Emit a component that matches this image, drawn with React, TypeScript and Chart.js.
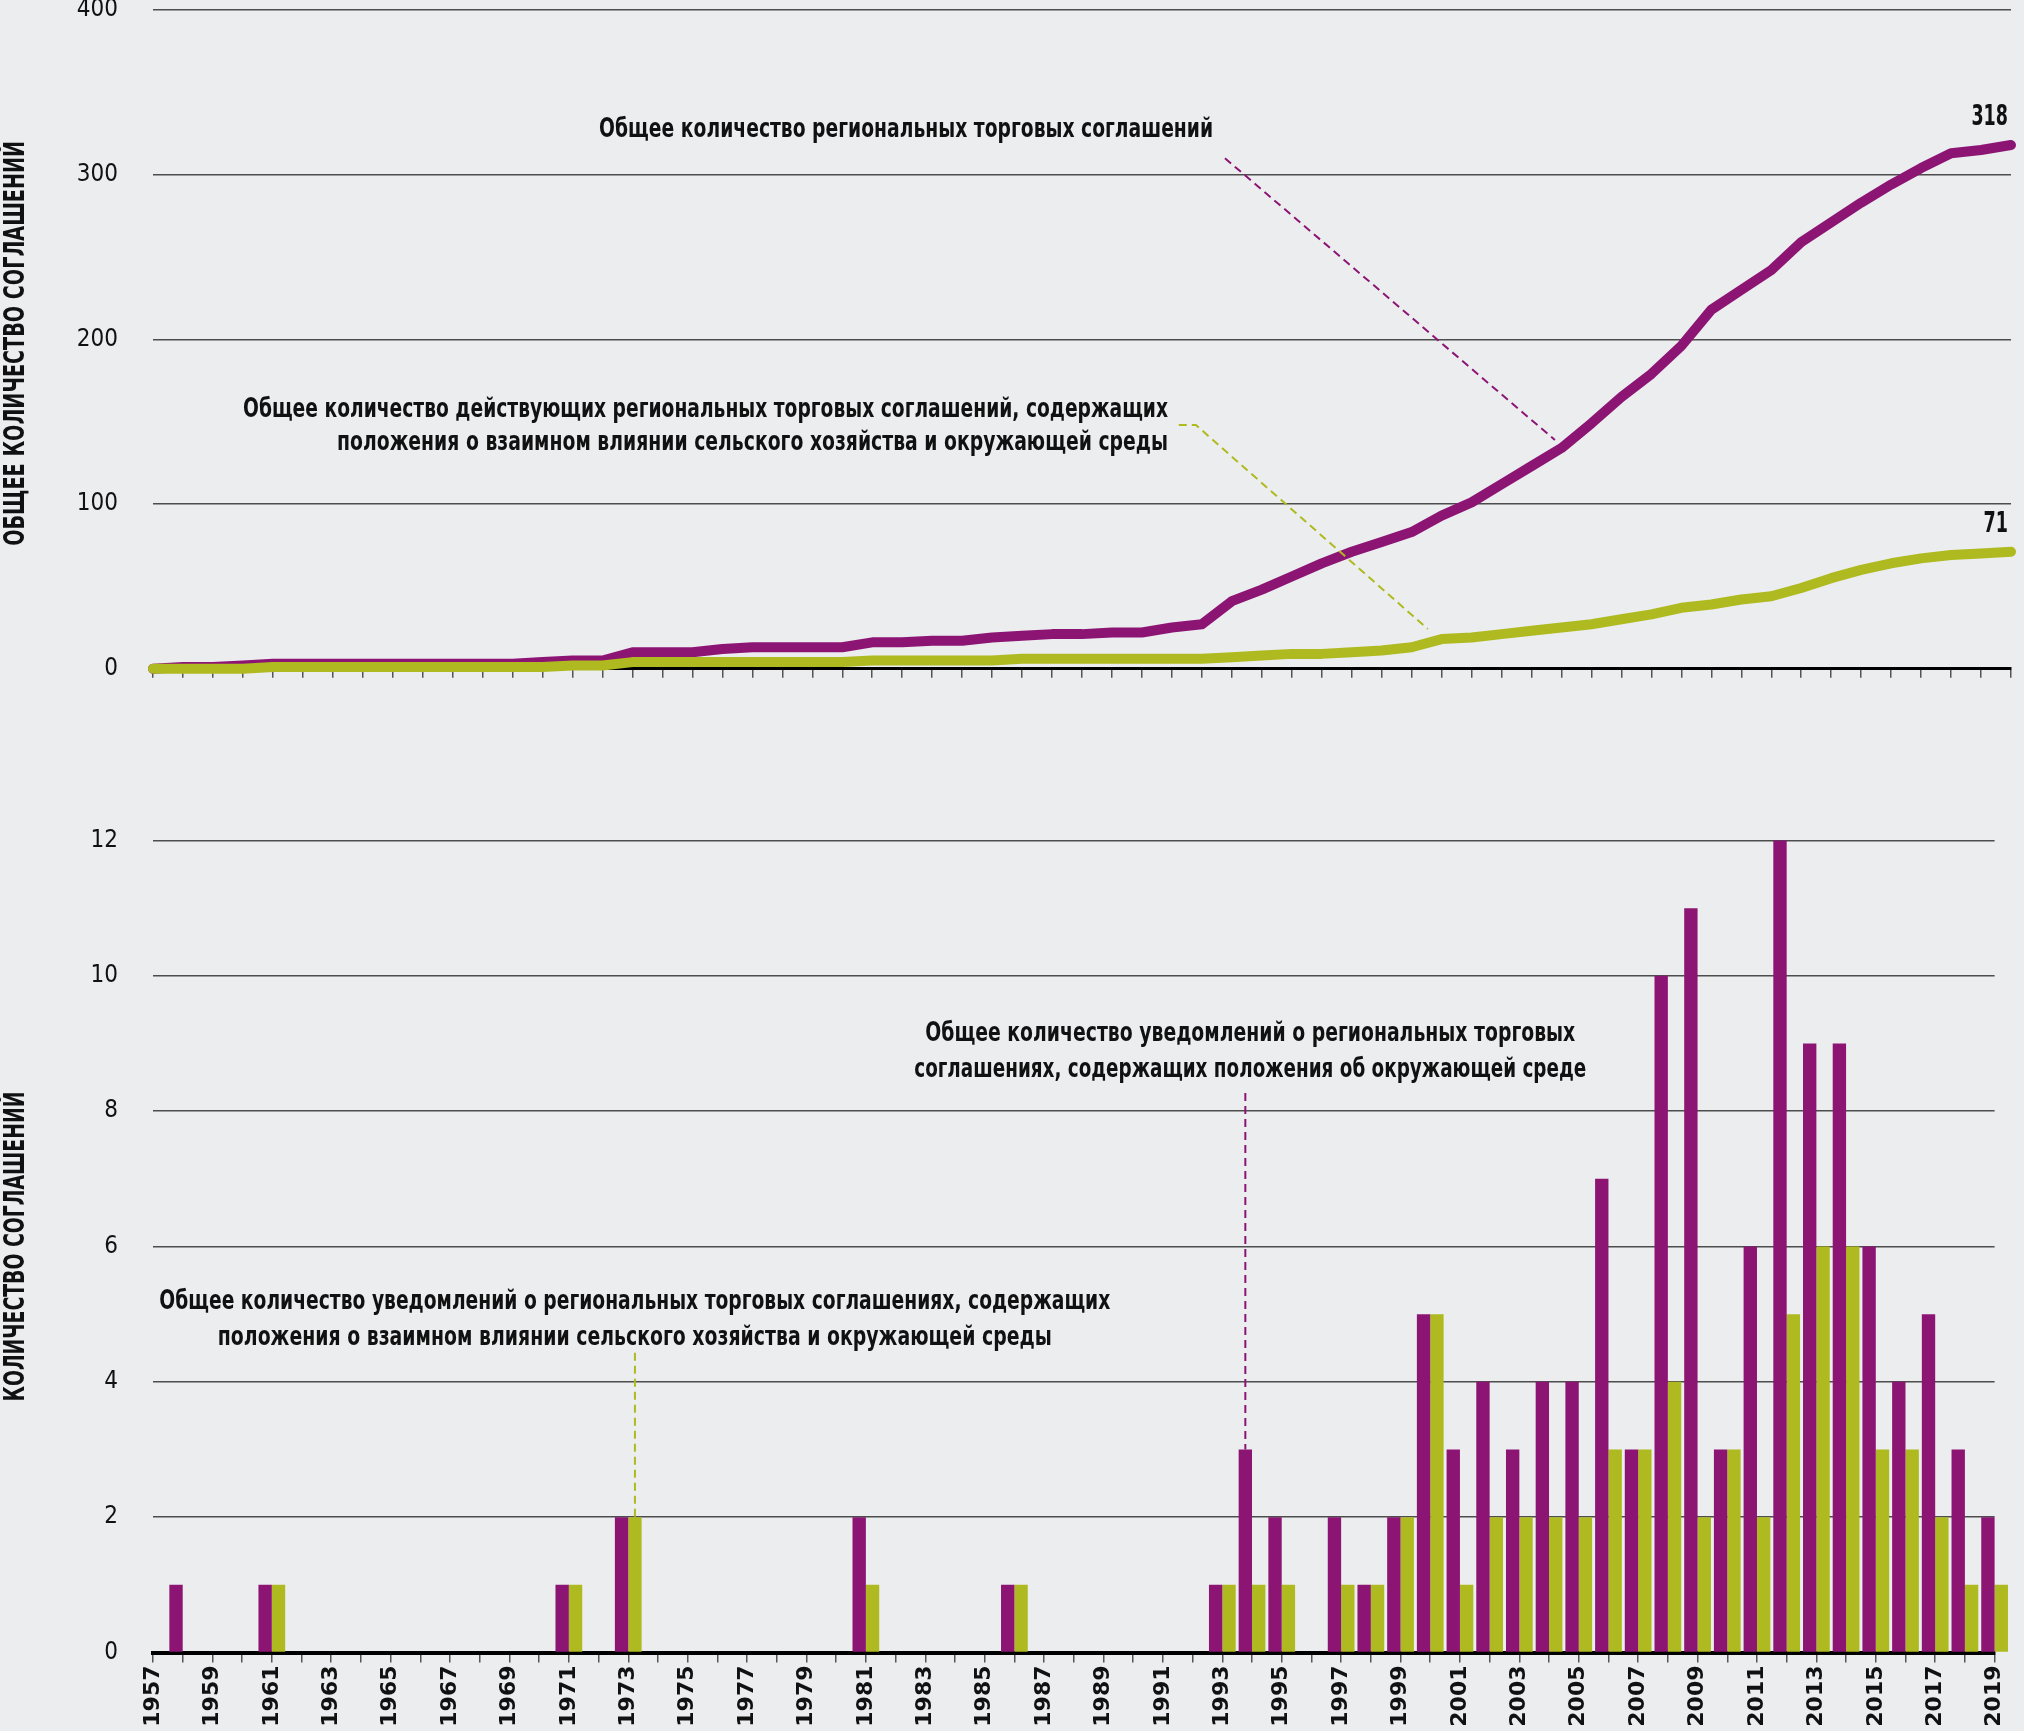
import React, { useEffect, useRef } from 'react';
import { Chart, registerables } from 'chart.js';

Chart.register(...registerables);

// ---------- data ----------
const years = [
  '1957', '1958', '1959', '1960', '1961', '1962', '1963', '1964', '1965', '1966',
  '1967', '1968', '1969', '1970', '1971', '1972', '1973', '1974', '1975', '1976',
  '1977', '1978', '1979', '1980', '1981', '1982', '1983', '1984', '1985', '1986',
  '1987', '1988', '1989', '1990', '1991', '1992', '1993', '1994', '1995', '1996',
  '1997', '1998', '1999', '2000', '2001', '2002', '2003', '2004', '2005', '2006',
  '2007', '2008', '2009', '2010', '2011', '2012', '2013', '2014', '2015', '2016',
  '2017', '2018', '2019',
];

// cumulative number of RTAs in force (purple line)
const totalRTAs = [
  0, 1, 1, 2, 3, 3, 3, 3, 3, 3,
  3, 3, 3, 4, 5, 5, 10, 10, 10, 12,
  13, 13, 13, 13, 16, 16, 17, 17, 19, 20,
  21, 21, 22, 22, 25, 27, 41, 48, 56, 64,
  71, 77, 83, 93, 101, 112, 123, 134, 149, 165,
  179, 196, 218, 230, 242, 259, 271, 283, 294, 304,
  313, 315, 318,
];

// cumulative number of RTAs in force with agriculture-environment provisions (green line)
const agriEnvRTAs = [
  0, 0, 0, 0, 1, 1, 1, 1, 1, 1,
  1, 1, 1, 1, 2, 2, 4, 4, 4, 4,
  4, 4, 4, 4, 5, 5, 5, 5, 5, 6,
  6, 6, 6, 6, 6, 6, 7, 8, 9, 9,
  10, 11, 13, 18, 19, 21, 23, 25, 27, 30,
  33, 37, 39, 42, 44, 49, 55, 60, 64, 67,
  69, 70, 71,
];

// yearly notifications of RTAs with environmental provisions (purple bars)
const envNotifications = [
  0, 1, 0, 0, 1, 0, 0, 0, 0, 0,
  0, 0, 0, 0, 1, 0, 2, 0, 0, 0,
  0, 0, 0, 0, 2, 0, 0, 0, 0, 1,
  0, 0, 0, 0, 0, 0, 1, 3, 2, 0,
  2, 1, 2, 5, 3, 4, 3, 4, 4, 7,
  3, 10, 11, 3, 6, 12, 9, 9, 6, 4,
  5, 3, 2,
];

// yearly notifications of RTAs with agriculture-environment provisions (green bars)
const agriEnvNotifications = [
  0, 0, 0, 0, 1, 0, 0, 0, 0, 0,
  0, 0, 0, 0, 1, 0, 2, 0, 0, 0,
  0, 0, 0, 0, 1, 0, 0, 0, 0, 1,
  0, 0, 0, 0, 0, 0, 1, 1, 1, 0,
  1, 1, 2, 5, 1, 2, 2, 2, 2, 3,
  3, 4, 2, 3, 2, 5, 6, 6, 3, 3,
  2, 1, 1,
];

const topAxisTitle = 'ОБЩЕЕ КОЛИЧЕСТВО СОГЛАШЕНИЙ';
const bottomAxisTitle = 'КОЛИЧЕСТВО СОГЛАШЕНИЙ';
const labelTotalRTAs = ['Общее количество региональных торговых соглашений'];
const labelAgriEnvRTAs = [
  'Общее количество действующих региональных торговых соглашений, содержащих',
  'положения о взаимном влиянии сельского хозяйства и окружающей среды',
];
const labelEnvNotifications = [
  'Общее количество уведомлений о региональных торговых',
  'соглашениях, содержащих положения об окружающей среде',
];
const labelAgriEnvNotifications = [
  'Общее количество уведомлений о региональных торговых соглашениях, содержащих',
  'положения о взаимном влиянии сельского хозяйства и окружающей среды',
];

// ---------- styles ----------
const PURPLE = '#8C1574';
const GREEN = '#AEBA1F';
const BG = '#ECEDEF';
const TEXT = '#111111';
const GRID = '#4d4d4d';

function fontAvailable(name: string): boolean {
  const c = document.createElement('canvas').getContext('2d');
  if (!c) return false;
  const test = 'Общее количество 0123456789 abcdefghij WWW';
  return ['monospace', 'serif'].some((b) => {
    c.font = `40px ${b}`;
    const w0 = c.measureText(test).width;
    c.font = `40px "${name}", ${b}`;
    const w1 = c.measureText(test).width;
    return Math.abs(w0 - w1) > 0.5;
  });
}

function pickNarrow(): string {
  const cands = ['Liberation Sans Narrow', 'Noto Sans Condensed', 'Noto Sans SemiCondensed', 'DejaVu Sans Condensed', 'Liberation Sans'];
  for (const c of cands) if (fontAvailable(c)) return `"${c}", sans-serif`;
  return 'sans-serif';
}

let NARROW = 'sans-serif';

function fitText(ctx: CanvasRenderingContext2D, text: string, x: number, y: number, width: number, align: CanvasTextAlign, font?: string) {
  ctx.save();
  ctx.font = font || `bold 27px ${NARROW}`;
  const w = ctx.measureText(text).width;
  const s = w > 0 ? width / w : 1;
  ctx.translate(x, y);
  ctx.scale(s, 1);
  ctx.textAlign = align;
  ctx.textBaseline = 'middle';
  ctx.fillStyle = TEXT;
  ctx.fillText(text, 0, 0);
  ctx.restore();
}

function dashed(ctx: CanvasRenderingContext2D, color: string, pts: number[][]) {
  ctx.save();
  ctx.strokeStyle = color;
  ctx.lineWidth = 2;
  ctx.setLineDash([8, 5]);
  ctx.beginPath();
  pts.forEach((p, i) => (i === 0 ? ctx.moveTo(p[0], p[1]) : ctx.lineTo(p[0], p[1])));
  ctx.stroke();
  ctx.restore();
}

function axisTitle(text: string, width: number, dy: number) {
  return {
    id: 'axisTitle',
    afterDraw(chart: any) {
      const ctx: CanvasRenderingContext2D = chart.ctx;
      const ca = chart.chartArea;
      ctx.save();
      ctx.translate(17, (ca.top + ca.bottom) / 2 + dy);
      ctx.rotate(-Math.PI / 2);
      fitText(ctx, text, 0, 0, width, 'center', `bold 28px ${NARROW}`);
      ctx.restore();
    },
  };
}

const topAnnotations = {
  id: 'topAnnotations',
  afterDatasetsDraw(chart: any) {
    const ctx: CanvasRenderingContext2D = chart.ctx;
    const xs = chart.scales.x;
    const ys = chart.scales.y;
    const X = (i: number) => xs.getPixelForValue(i);
    const Y = (v: number) => ys.getPixelForValue(v);
    const last = years.length - 1;

    [totalRTAs, agriEnvRTAs].forEach((arr) => {
      const v = arr[last];
      const t = String(v);
      fitText(ctx, t, X(last) - 3, Y(v) - 27, t.length * 12.2, 'right', `bold 28px ${NARROW}`);
    });

    fitText(ctx, labelTotalRTAs[0], X(25.13), Y(327.1), 614, 'center');
    fitText(ctx, labelAgriEnvRTAs[0], X(33.87), Y(157.1), 925, 'right');
    fitText(ctx, labelAgriEnvRTAs[1], X(33.87), Y(137.0), 831, 'right');

    dashed(ctx, PURPLE, [[X(35.77), Y(310)], [X(46.78), Y(138.9)]]);
    dashed(ctx, GREEN, [[X(34.23), Y(148)], [X(34.8), Y(148)], [X(42.54), Y(24.1)]]);
  },
};

const bottomAnnotations = {
  id: 'bottomAnnotations',
  afterDatasetsDraw(chart: any) {
    const ctx: CanvasRenderingContext2D = chart.ctx;
    const xs = chart.scales.x;
    const ys = chart.scales.y;
    const X = (i: number) => xs.getPixelForValue(i);
    const Y = (v: number) => ys.getPixelForValue(v);

    fitText(ctx, labelEnvNotifications[0], X(36.94), Y(9.14), 650, 'center');
    fitText(ctx, labelEnvNotifications[1], X(36.94), Y(8.61), 672, 'center');
    fitText(ctx, labelAgriEnvNotifications[0], X(16.22), Y(5.18), 951, 'center');
    fitText(ctx, labelAgriEnvNotifications[1], X(16.22), Y(4.65), 834, 'center');

    const pBar = chart.getDatasetMeta(0).data[years.indexOf('1994')];
    if (pBar) dashed(ctx, PURPLE, [[pBar.x, Y(8.27)], [pBar.x, pBar.y]]);
    const gBar = chart.getDatasetMeta(1).data[years.indexOf('1973')];
    if (gBar) dashed(ctx, GREEN, [[gBar.x, Y(4.43)], [gBar.x, gBar.y]]);
  },
};

function yTickSize(): number {
  const c = document.createElement('canvas').getContext('2d');
  if (!c) return 24;
  c.font = `26px ${NARROW}`;
  const w = c.measureText('400').width;
  const s = w > 0 ? (26 * 35) / w : 24;
  return Math.max(24, Math.min(27, s));
}

function yAxis(max: number, step: number, tickSize: number) {
  return {
    min: 0,
    max,
    ticks: {
      stepSize: step,
      padding: 2,
      color: TEXT,
      font: { family: NARROW, size: tickSize, lineHeight: 0.6 },
    },
    grid: {
      color: (c: any) => (c.tick && c.tick.value === 0 ? 'rgba(0,0,0,0)' : GRID),
      lineWidth: 1.5,
      drawTicks: true,
      tickLength: 33,
      tickColor: 'rgba(0,0,0,0)',
    },
    border: { display: false },
    title: { display: false },
    afterFit: (s: any) => { s.width = 153; },
  };
}

export default function App() {
  const topRef = useRef<HTMLCanvasElement>(null);
  const botRef = useRef<HTMLCanvasElement>(null);

  useEffect(() => {
    NARROW = pickNarrow();
    const tickSize = yTickSize();

    const top = new Chart(topRef.current as HTMLCanvasElement, {
      type: 'line',
      data: {
        labels: years,
        datasets: [
          {
            label: labelAgriEnvRTAs.join(' '),
            data: agriEnvRTAs,
            borderColor: GREEN,
            backgroundColor: GREEN,
            borderWidth: 10,
            pointRadius: 0,
            borderCapStyle: 'round',
            borderJoinStyle: 'round',
            tension: 0,
            fill: false,
            clip: false,
            order: 0,
          },
          {
            label: labelTotalRTAs[0],
            data: totalRTAs,
            borderColor: PURPLE,
            backgroundColor: PURPLE,
            borderWidth: 10,
            pointRadius: 0,
            borderCapStyle: 'round',
            borderJoinStyle: 'round',
            tension: 0,
            fill: false,
            clip: false,
            order: 1,
          },
        ],
      },
      options: {
        responsive: false,
        animation: false,
        devicePixelRatio: 1,
        layout: { padding: { top: 10, right: 13, left: 0, bottom: 0 } },
        plugins: { legend: { display: false }, tooltip: { enabled: false } },
        scales: {
          x: {
            type: 'category',
            offset: false,
            grid: { display: true, drawOnChartArea: false, drawTicks: true, tickLength: 9, color: '#555', lineWidth: 1.5 },
            border: { display: true, color: '#000', width: 3 },
            ticks: { display: false },
            afterFit: (s: any) => { s.height = 31.3; },
          },
          y: yAxis(400, 100, tickSize),
        },
      },
      plugins: [topAnnotations, axisTitle(topAxisTitle, 405, 4)],
    } as any);

    const bot = new Chart(botRef.current as HTMLCanvasElement, {
      type: 'bar',
      data: {
        labels: years,
        datasets: [
          {
            label: labelEnvNotifications.join(' '),
            data: envNotifications,
            backgroundColor: PURPLE,
            borderWidth: 0,
            categoryPercentage: 0.9,
            barPercentage: 1,
            clip: false,
          },
          {
            label: labelAgriEnvNotifications.join(' '),
            data: agriEnvNotifications,
            backgroundColor: GREEN,
            borderWidth: 0,
            categoryPercentage: 0.9,
            barPercentage: 1,
            clip: false,
          },
        ],
      },
      options: {
        responsive: false,
        animation: false,
        devicePixelRatio: 1,
        layout: { padding: { top: 140.5, right: 13, left: 0, bottom: 0 } },
        plugins: { legend: { display: false }, tooltip: { enabled: false } },
        scales: {
          x: {
            type: 'category',
            offset: false,
            grid: { display: true, offset: false, drawOnChartArea: false, drawTicks: true, tickLength: 10, color: '#555', lineWidth: 1.5 },
            border: { display: true, color: '#000', width: 4 },
            ticks: {
              autoSkip: false,
              minRotation: 90,
              maxRotation: 90,
              padding: 3,
              color: TEXT,
              font: { family: '"DejaVu Sans", sans-serif', weight: 'bold', size: 22 },
              callback: (_v: any, i: number) => (i % 2 === 0 ? years[i] : ''),
            },
            afterFit: (s: any) => { s.height = 78.5; },
          },
          y: yAxis(12, 2, tickSize),
        },
      },
      plugins: [bottomAnnotations, axisTitle(bottomAxisTitle, 310, 0)],
    } as any);

    return () => {
      top.destroy();
      bot.destroy();
    };
  }, []);

  return (
    <div style={{ position: 'absolute', left: 0, top: 0, width: 2024, height: 1731, background: BG, overflow: 'hidden' }}>
      <canvas ref={topRef} width={2024} height={700} style={{ position: 'absolute', left: 0, top: 0 }} />
      <canvas ref={botRef} width={2024} height={1031} style={{ position: 'absolute', left: 0, top: 700 }} />
    </div>
  );
}
